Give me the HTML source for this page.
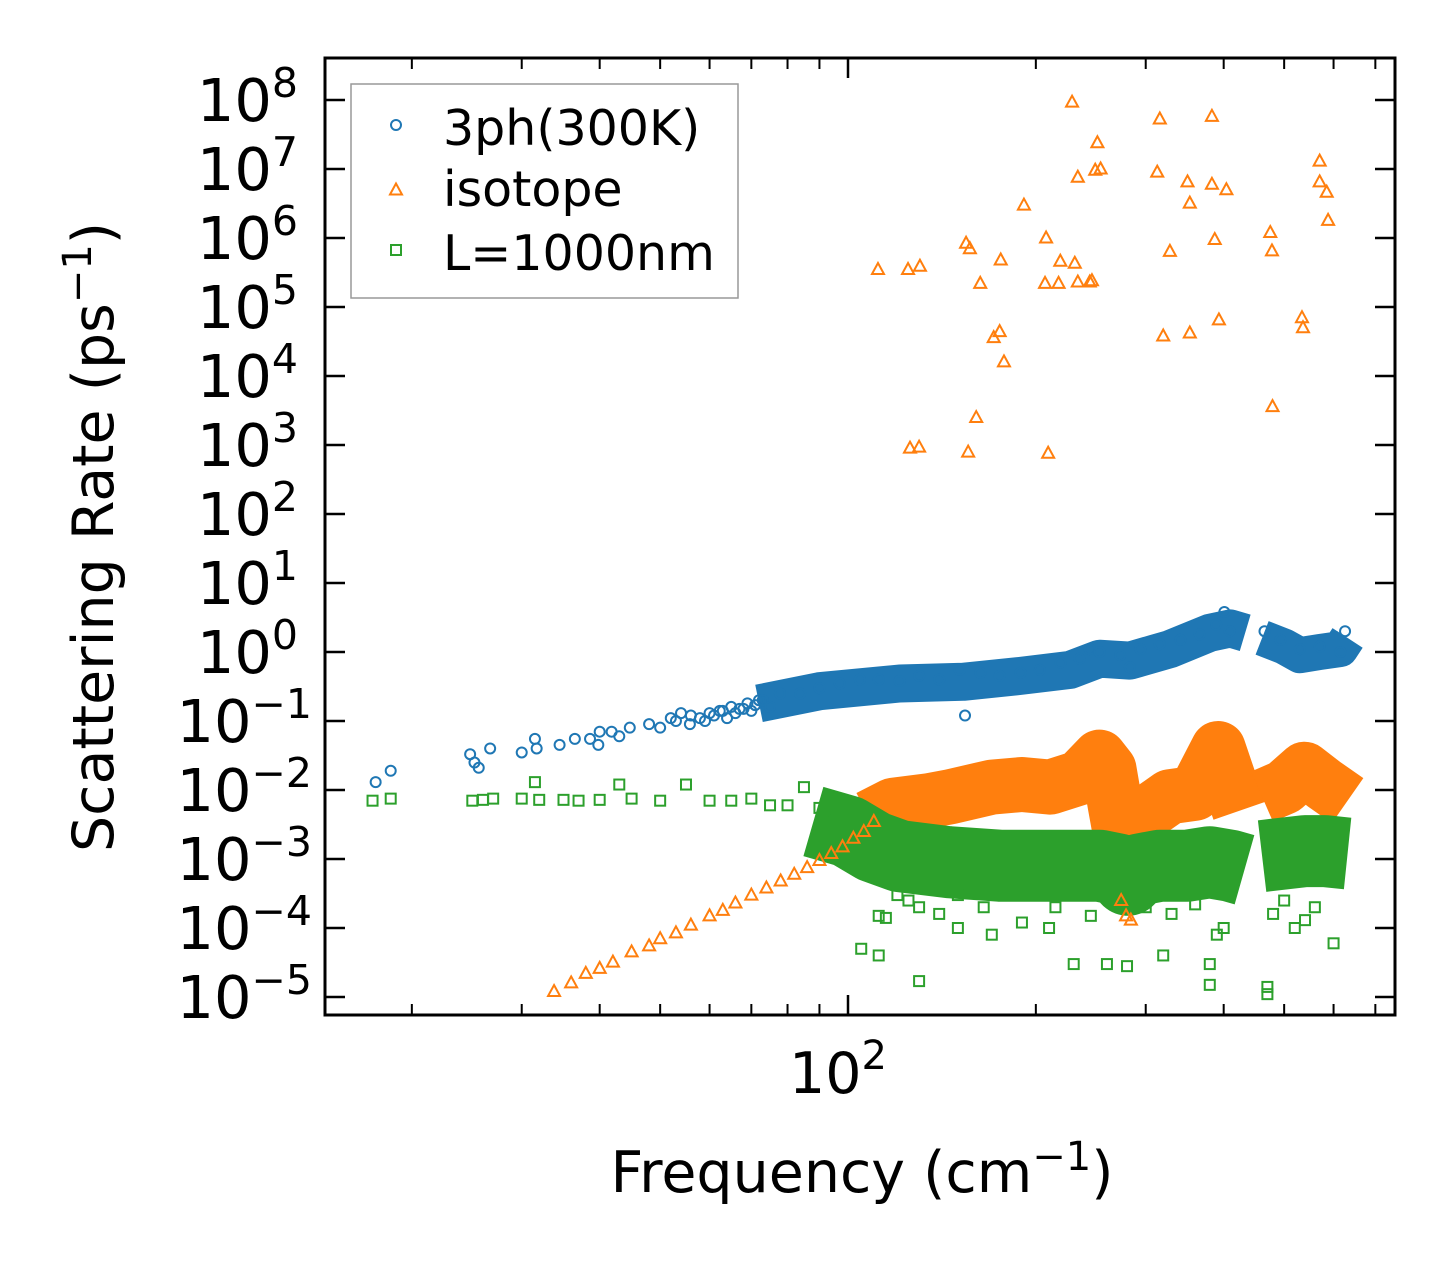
<!DOCTYPE html>
<html><head><meta charset="utf-8">
<style>
html,body{margin:0;padding:0;background:#fff;}
svg{display:block;font-family:"DejaVu Sans","Liberation Sans",sans-serif;}
</style></head>
<body>
<svg id="chart" width="1455" height="1265" viewBox="0 0 1455 1265">
<rect x="0" y="0" width="1455" height="1265" fill="#fff"/>
<g id="bands"></g>
<g id="marks"></g>
<g id="axes"></g>
</svg>
<script>
// ---- data ----
const blueFreq = [17.5,18.5,24.8,25.2,25.6,26.7,30,31.5,31.7,34.5,36.5,38.6,39.8,40,41.8,43,44.7,48,50,52,55.8,57.9,62.3,67,72,77.8,83.8,90,97,104.5,112,121,130,140,151,154,163,175,189,203,219,235,244,253,273,283,294,316,341,366,389,401,409,465,493,530,570,615,626,
 53,54,56,59,60,61,63,64,65,66,68,69,70,71,73,75];
const blueRate = [0.013,0.019,0.033,0.025,0.021,0.04,0.035,0.055,0.04,0.045,0.055,0.055,0.045,0.07,0.07,0.06,0.08,0.09,0.08,0.11,0.09,0.11,0.14,0.15,0.2,0.25,0.25,0.3,0.35,0.4,0.4,0.38,0.45,0.4,0.55,0.12,0.5,0.45,0.5,0.55,0.7,0.8,1.1,1.0,0.9,0.6,1.1,1.3,1.5,1.8,2.5,3.8,2.0,2.0,1.5,1.1,1.2,1.0,2.0,
 0.1,0.13,0.12,0.1,0.13,0.12,0.14,0.11,0.16,0.13,0.15,0.18,0.14,0.17,0.2,0.16];
const blueBandFreq = [72,90,121,153,189,227,253,283,328,380,410,433];
const blueBandRate = [0.18,0.27,0.35,0.37,0.45,0.55,0.8,0.75,1.1,1.9,2.2,1.9];
const blueBand2Freq = [461,500,530,570,615,632];
const blueBand2Rate = [1.6,1.2,0.9,1.0,1.1,1.6];

const isoFreq = [111.7,124.8,130.4,125.7,130,154.6,156.8,162.9,155.8,160.5,171.2,175,175.7,177.8,191.4,207.7,206.9,209.3,217.5,218.9,228.6,230.9,233.5,233.5,244,246,251,249,254,313,316,320,328,350,353,353,383,383,387,393,404,475,478,479,534,536,570,570,585,588,
 33.8,36,38,40,42,45,48,50,53,56,60,63,66,70,74,78,82,86,90,94,98,102,106,110,274,279,284];
const isoRate = [3.5e5,3.5e5,3.9e5,900,930,8.4e5,7e5,2.2e5,790,2500,3.6e4,4.4e4,4.8e5,1.6e4,3e6,1e6,2.2e5,760,2.2e5,4.6e5,9.3e7,4.3e5,7.6e6,2.3e5,2.3e5,2.4e5,2.4e7,9.6e6,1e7,9e6,5.3e7,3.8e4,6.4e5,6.5e6,3.2e6,4.2e4,5.8e7,6e6,9.5e5,6.5e4,5e6,1.2e6,6.5e5,3.6e3,7e4,5e4,1.3e7,6.5e6,4.6e6,1.8e6,
 1.2e-5,1.6e-5,2.2e-5,2.6e-5,3.2e-5,4.5e-5,5.5e-5,7e-5,8.5e-5,1.1e-4,1.5e-4,1.8e-4,2.3e-4,3e-4,3.8e-4,4.8e-4,6e-4,7.5e-4,9.5e-4,1.2e-3,1.5e-3,2e-3,2.5e-3,3.5e-3,2.5e-4,1.5e-4,1.3e-4];
const isoBandFreq = [108,118,135,146,170,190,211,235,253,262,268,279,294,328,360,392,410,424];
const isoBandRate = [0.004,0.006,0.007,0.008,0.011,0.012,0.011,0.015,0.03,0.02,0.006,0.0008,0.004,0.008,0.009,0.04,0.012,0.005];
const isoBand2Freq = [461,500,539,580,632];
const isoBand2Rate = [0.008,0.011,0.02,0.012,0.007];

const grnFreq = [17.3,18.5,25,26,27,30,31.5,32,35,37,40,43,45,50,55,60,65,70,75,80,85,90,95,100,
 105,112,130,112,120,150,170,210,230,260,280,320,380,380,390,470,470,520,560,600,130,150,300,115,125,140,165,190,215,245,330,360,400,480,500,540];
const grnRate = [0.007,0.0075,0.007,0.0072,0.0075,0.0075,0.013,0.0072,0.0072,0.007,0.0072,0.012,0.0075,0.007,0.012,0.007,0.007,0.0075,0.006,0.006,0.011,0.0055,0.005,0.005,
 5e-5,4e-5,1.7e-5,1.5e-4,3e-4,1e-4,8e-5,1e-4,3e-5,3e-5,2.8e-5,4e-5,1.5e-5,3e-5,8e-5,1.1e-5,1.4e-5,1e-4,2e-4,6e-5,2e-4,3e-4,2e-4,1.4e-4,2.5e-4,1.6e-4,2e-4,1.2e-4,2e-4,1.5e-4,1.6e-4,2.2e-4,1e-4,1.6e-4,2.5e-4,1.3e-4];
const grnBandFreq = [88,100,110,121,145,175,215,253,272,281,292,316,350,380,410,432];
const grnBandRate = [0.0035,0.0025,0.0015,0.0011,0.0009,0.0008,0.0008,0.0008,0.0007,0.0005,0.0007,0.0008,0.0008,0.0009,0.0008,0.0007];
const grnBand2Freq = [461,500,540,580,632];
const grnBand2Rate = [0.0011,0.0012,0.0013,0.0013,0.0012];

const xMajorTicks = [100];
const xMinorTicks = [20,30,40,50,60,70,80,90,200,300,400,500,600,700];
const yTickExps = [-5,-4,-3,-2,-1,0,1,2,3,4,5,6,7,8];

// ---- axis functions ----
const L=325,R=1395,T=58,B=1015;
function xs(f){return 848+624*(Math.log10(f)-2);}
function ys(v){return 652-69*Math.log10(v);}
const NS="http://www.w3.org/2000/svg";
function mk(tag,attrs,parent){const e=document.createElementNS(NS,tag);for(const k in attrs)e.setAttribute(k,attrs[k]);parent.appendChild(e);return e;}
const bands=document.getElementById('bands'),marks=document.getElementById('marks'),axes=document.getElementById('axes');
const C_BLUE="#1f77b4",C_OR="#ff7f0e",C_GR="#2ca02c";

function band(fr,rt,color,w,name){
  const d=fr.map((f,i)=>(i?'L':'M')+xs(f).toFixed(1)+','+ys(rt[i]).toFixed(1)).join(' ');
  const p=mk('path',{d:d,fill:'none',stroke:color,'stroke-width':w,'stroke-linejoin':'round','stroke-linecap':'butt'},bands);
  
  
}
band(isoBandFreq,isoBandRate,C_OR,55,'isotope-dense-band');
band(isoBand2Freq,isoBand2Rate,C_OR,55,'isotope-dense-band-2');
band(grnBandFreq,grnBandRate,C_GR,72,'boundary-dense-band');
band(grnBand2Freq,grnBand2Rate,C_GR,72,'boundary-dense-band-2');
band(blueBandFreq,blueBandRate,C_BLUE,38,'3ph-dense-band');
band(blueBand2Freq,blueBand2Rate,C_BLUE,36,'3ph-dense-band-2');

function circle(cx,cy,parent){return mk('circle',{cx:cx,cy:cy,r:5,fill:'none',stroke:C_BLUE,'stroke-width':2},parent);}
function tri(cx,cy,parent){return mk('path',{d:`M${cx},${cy-6.5} L${cx+6},${cy+4.5} L${cx-6},${cy+4.5} Z`,fill:'none',stroke:C_OR,'stroke-width':2},parent);}
function sq(cx,cy,parent){return mk('rect',{x:cx-5,y:cy-5,width:10,height:10,fill:'none',stroke:C_GR,'stroke-width':2},parent);}

isoFreq.forEach((f,i)=>{const e=tri(xs(f),ys(isoRate[i]),marks);
  
  });
grnFreq.forEach((f,i)=>{const e=sq(xs(f),ys(grnRate[i]),marks);
  
  });
blueFreq.forEach((f,i)=>{const e=circle(xs(f),ys(blueRate[i]),marks);
  
  });

// axes frame
const fr=mk('rect',{x:L,y:T,width:R-L,height:B-T,fill:'none',stroke:'#000','stroke-width':3},axes);


xMajorTicks.forEach(f=>{const x=xs(f);
  mk('line',{x1:x,y1:B,x2:x,y2:B-20,stroke:'#000','stroke-width':2.5},axes);
  mk('line',{x1:x,y1:T,x2:x,y2:T+20,stroke:'#000','stroke-width':2.5},axes);
  const t=mk('text',{x:x-10,y:1093,'font-size':57,'text-anchor':'middle'},axes);
  t.innerHTML='10<tspan dy="-24" font-size="40">2</tspan>';
  
  });
xMinorTicks.forEach(f=>{const x=xs(f);
  mk('line',{x1:x,y1:B,x2:x,y2:B-11,stroke:'#000','stroke-width':2},axes);
  mk('line',{x1:x,y1:T,x2:x,y2:T+11,stroke:'#000','stroke-width':2},axes);});
yTickExps.forEach(e=>{const y=ys(Math.pow(10,e));
  mk('line',{x1:L,y1:y,x2:L+20,y2:y,stroke:'#000','stroke-width':2.5},axes);
  mk('line',{x1:R,y1:y,x2:R-20,y2:y,stroke:'#000','stroke-width':2.5},axes);
  const t=mk('text',{x:e<0?312:298,y:y+21,'font-size':59,'text-anchor':'end'},axes);
  const lab=e<0?'\u2212'+(-e):String(e);
  t.innerHTML='10<tspan dy="-24" font-size="41">'+lab+'</tspan>';
  
  });
</script>
<svg style="position:absolute;left:0;top:0" width="1455" height="1265">
<text x="862" y="1192" font-size="57" text-anchor="middle" font-family="DejaVu Sans, Liberation Sans, sans-serif">Frequency (cm<tspan dy="-22" font-size="40">−1</tspan><tspan dy="22">)</tspan></text>
<text transform="translate(113,537) rotate(-90)" font-size="57" text-anchor="middle" font-family="DejaVu Sans, Liberation Sans, sans-serif">Scattering Rate (ps<tspan dy="-22" font-size="40">−1</tspan><tspan dy="22">)</tspan></text>
<g>
<rect x="351" y="84" width="387" height="214" fill="#fff" fill-opacity="0.8" stroke="#999" stroke-width="1.5"/>
<circle cx="396" cy="125" r="5" fill="none" stroke="#1f77b4" stroke-width="2"/>
<text x="443" y="145" font-size="49" font-family="DejaVu Sans, Liberation Sans, sans-serif">3ph(300K)</text>
<path d="M396,183.5 L402,194.5 L390,194.5 Z" fill="none" stroke="#ff7f0e" stroke-width="2"/>
<text x="443" y="206" font-size="49" font-family="DejaVu Sans, Liberation Sans, sans-serif">isotope</text>
<rect x="391" y="245" width="10" height="10" fill="none" stroke="#2ca02c" stroke-width="2"/>
<text x="443" y="270" font-size="49" font-family="DejaVu Sans, Liberation Sans, sans-serif">L=1000nm</text>
</g>
</svg>
</body></html>
